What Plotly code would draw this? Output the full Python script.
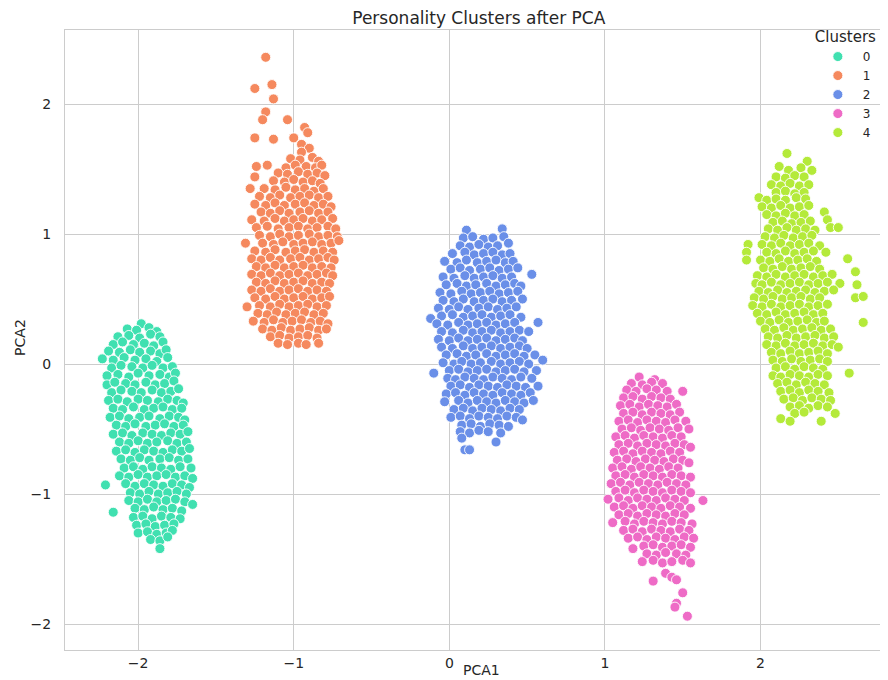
import plotly.graph_objects as go

# Cluster labels and colours
cluster_labels = ["0", "1", "2", "3", "4"]
cluster_colors = ["#40E0B0", "#F5895E", "#6A8FE8", "#EE6BC6", "#B4EA3A"]

# PCA coordinates (x=PCA1, y=PCA2), per cluster
cluster0 = [
    (-1.98, 0.31),
    (-2.07, 0.27), (-2.01, 0.26), (-1.93, 0.28), (-1.88, 0.25),
    (-2.13, 0.21), (-2.06, 0.22), (-1.99, 0.20), (-1.92, 0.23), (-1.86, 0.21),
    (-2.16, 0.15), (-2.10, 0.17), (-2.03, 0.15), (-1.96, 0.16), (-1.90, 0.14), (-1.84, 0.17),
    (-2.19, 0.10), (-2.12, 0.09), (-2.05, 0.11), (-1.99, 0.09), (-1.92, 0.10), (-1.86, 0.08), (-1.82, 0.11),
    (-2.23, 0.04), (-2.16, 0.03), (-2.09, 0.05), (-2.02, 0.03), (-1.95, 0.04), (-1.88, 0.02), (-1.81, 0.05),
    (-2.17, -0.03), (-2.11, -0.01), (-2.04, -0.02), (-1.97, -0.03), (-1.91, -0.01), (-1.84, -0.03), (-1.78, -0.02),
    (-2.20, -0.09), (-2.13, -0.08), (-2.06, -0.10), (-2.00, -0.07), (-1.93, -0.09), (-1.86, -0.08), (-1.80, -0.10), (-1.76, -0.07),
    (-2.20, -0.16), (-2.15, -0.14), (-2.08, -0.15), (-2.02, -0.16), (-1.95, -0.14), (-1.89, -0.16), (-1.83, -0.15), (-1.77, -0.13),
    (-2.17, -0.22), (-2.11, -0.20), (-2.04, -0.21), (-1.98, -0.22), (-1.91, -0.20), (-1.85, -0.22), (-1.79, -0.21), (-1.74, -0.19),
    (-2.19, -0.28), (-2.13, -0.27), (-2.07, -0.29), (-2.00, -0.27), (-1.94, -0.28), (-1.87, -0.29), (-1.81, -0.27), (-1.75, -0.28), (-1.71, -0.30),
    (-2.16, -0.34), (-2.10, -0.35), (-2.03, -0.33), (-1.96, -0.35), (-1.90, -0.34), (-1.84, -0.33), (-1.78, -0.35), (-1.72, -0.34),
    (-2.18, -0.41), (-2.12, -0.40), (-2.06, -0.42), (-1.99, -0.41), (-1.93, -0.40), (-1.86, -0.42), (-1.80, -0.40), (-1.74, -0.41), (-1.70, -0.43),
    (-2.14, -0.47), (-2.08, -0.48), (-2.02, -0.46), (-1.95, -0.48), (-1.89, -0.47), (-1.83, -0.46), (-1.77, -0.48), (-1.71, -0.47),
    (-2.16, -0.54), (-2.10, -0.53), (-2.04, -0.55), (-1.97, -0.53), (-1.91, -0.54), (-1.85, -0.55), (-1.79, -0.53), (-1.73, -0.54), (-1.68, -0.52),
    (-2.12, -0.60), (-2.06, -0.61), (-2.00, -0.59), (-1.94, -0.61), (-1.88, -0.60), (-1.81, -0.59), (-1.75, -0.61), (-1.69, -0.60),
    (-2.14, -0.67), (-2.08, -0.66), (-2.02, -0.68), (-1.96, -0.66), (-1.90, -0.67), (-1.84, -0.68), (-1.78, -0.66), (-1.72, -0.67), (-1.67, -0.65),
    (-2.11, -0.73), (-2.05, -0.74), (-1.99, -0.72), (-1.93, -0.74), (-1.86, -0.73), (-1.80, -0.72), (-1.74, -0.74), (-1.68, -0.73),
    (-2.09, -0.80), (-2.03, -0.79), (-1.97, -0.81), (-1.91, -0.79), (-1.85, -0.80), (-1.79, -0.81), (-1.73, -0.79), (-1.66, -0.80),
    (-2.12, -0.86), (-2.06, -0.87), (-2.00, -0.85), (-1.94, -0.87), (-1.88, -0.86), (-1.82, -0.85), (-1.76, -0.87), (-1.70, -0.86), (-1.65, -0.88),
    (-2.21, -0.93), (-2.08, -0.92), (-2.02, -0.94), (-1.96, -0.92), (-1.90, -0.93), (-1.84, -0.94), (-1.78, -0.92), (-1.72, -0.93), (-1.67, -0.95),
    (-2.05, -0.99), (-1.99, -1.00), (-1.93, -0.98), (-1.87, -1.00), (-1.81, -0.99), (-1.75, -0.98), (-1.69, -1.00),
    (-2.06, -1.05), (-2.00, -1.06), (-1.94, -1.04), (-1.88, -1.06), (-1.82, -1.05), (-1.76, -1.04), (-1.70, -1.06), (-1.65, -1.08),
    (-2.16, -1.14), (-2.02, -1.11), (-1.96, -1.12), (-1.90, -1.10), (-1.84, -1.12), (-1.78, -1.11), (-1.72, -1.13),
    (-2.03, -1.18), (-1.97, -1.17), (-1.91, -1.19), (-1.85, -1.17), (-1.79, -1.18), (-1.73, -1.19),
    (-2.01, -1.24), (-1.95, -1.23), (-1.89, -1.25), (-1.83, -1.24), (-1.77, -1.23),
    (-2.00, -1.30), (-1.94, -1.29), (-1.88, -1.31), (-1.82, -1.30), (-1.78, -1.28),
    (-1.92, -1.35), (-1.86, -1.36), (-1.81, -1.33),
    (-1.86, -1.42),
]

cluster1 = [
    (-1.18, 2.36), (-1.25, 2.12), (-1.14, 2.15), (-1.13, 2.04), (-1.18, 1.94),
    (-1.20, 1.88), (-1.04, 1.88), (-0.93, 1.82), (-0.91, 1.78), (-1.25, 1.74),
    (-1.13, 1.73), (-1.00, 1.74), (-0.95, 1.69), (-0.90, 1.66), (-0.95, 1.63),
    (-1.02, 1.58), (-0.96, 1.57), (-0.88, 1.59), (-0.84, 1.56),
    (-1.24, 1.52), (-1.17, 1.53), (-1.05, 1.51), (-0.99, 1.53), (-0.92, 1.52), (-0.86, 1.51), (-0.82, 1.53),
    (-1.10, 1.47), (-1.04, 1.46), (-0.97, 1.48), (-0.91, 1.46), (-0.85, 1.47), (-0.80, 1.45),
    (-1.25, 1.44), (-1.13, 1.41), (-1.06, 1.40), (-1.00, 1.42), (-0.94, 1.40), (-0.88, 1.41), (-0.83, 1.39),
    (-1.28, 1.35), (-1.19, 1.35), (-1.12, 1.34), (-1.05, 1.36), (-0.99, 1.34), (-0.93, 1.35), (-0.87, 1.33), (-0.81, 1.35),
    (-1.22, 1.29), (-1.15, 1.28), (-1.09, 1.30), (-1.02, 1.28), (-0.96, 1.29), (-0.90, 1.30), (-0.84, 1.28), (-0.78, 1.29),
    (-1.25, 1.23), (-1.18, 1.22), (-1.12, 1.24), (-1.06, 1.22), (-0.99, 1.23), (-0.93, 1.24), (-0.87, 1.22), (-0.81, 1.23), (-0.76, 1.21),
    (-1.21, 1.17), (-1.15, 1.16), (-1.09, 1.18), (-1.03, 1.16), (-0.96, 1.17), (-0.90, 1.18), (-0.84, 1.16), (-0.78, 1.17),
    (-1.27, 1.11), (-1.19, 1.10), (-1.12, 1.12), (-1.06, 1.10), (-1.00, 1.11), (-0.94, 1.12), (-0.88, 1.10), (-0.82, 1.11), (-0.75, 1.12),
    (-1.24, 1.05), (-1.17, 1.06), (-1.10, 1.04), (-1.03, 1.05), (-0.97, 1.06), (-0.91, 1.04), (-0.85, 1.05), (-0.78, 1.06), (-0.73, 1.04),
    (-1.22, 0.99), (-1.15, 0.98), (-1.09, 1.00), (-1.03, 0.98), (-0.97, 0.99), (-0.90, 1.00), (-0.84, 0.98), (-0.78, 0.99), (-0.72, 0.98),
    (-1.31, 0.93), (-1.20, 0.93), (-1.13, 0.92), (-1.07, 0.94), (-1.00, 0.92), (-0.94, 0.93), (-0.88, 0.94), (-0.82, 0.92), (-0.76, 0.93), (-0.71, 0.95),
    (-1.25, 0.87), (-1.18, 0.86), (-1.12, 0.88), (-1.05, 0.86), (-0.99, 0.87), (-0.93, 0.88), (-0.87, 0.86), (-0.81, 0.87), (-0.75, 0.86),
    (-1.27, 0.81), (-1.21, 0.80), (-1.15, 0.82), (-1.09, 0.80), (-1.02, 0.81), (-0.96, 0.82), (-0.90, 0.80), (-0.84, 0.81), (-0.78, 0.82), (-0.74, 0.80),
    (-1.24, 0.75), (-1.18, 0.74), (-1.12, 0.76), (-1.06, 0.74), (-1.00, 0.75), (-0.94, 0.76), (-0.88, 0.74), (-0.82, 0.75), (-0.76, 0.74),
    (-1.27, 0.69), (-1.21, 0.68), (-1.15, 0.70), (-1.09, 0.68), (-1.03, 0.69), (-0.97, 0.70), (-0.91, 0.68), (-0.85, 0.69), (-0.79, 0.70), (-0.75, 0.68),
    (-1.24, 0.63), (-1.18, 0.62), (-1.12, 0.64), (-1.06, 0.62), (-1.00, 0.63), (-0.94, 0.64), (-0.88, 0.62), (-0.82, 0.63), (-0.77, 0.62),
    (-1.27, 0.57), (-1.21, 0.56), (-1.15, 0.58), (-1.09, 0.56), (-1.03, 0.57), (-0.97, 0.58), (-0.91, 0.56), (-0.85, 0.57), (-0.79, 0.56),
    (-1.25, 0.51), (-1.18, 0.50), (-1.12, 0.52), (-1.06, 0.50), (-1.00, 0.51), (-0.94, 0.52), (-0.88, 0.50), (-0.82, 0.51), (-0.77, 0.52),
    (-1.30, 0.44), (-1.22, 0.45), (-1.15, 0.44), (-1.09, 0.46), (-1.03, 0.44), (-0.97, 0.45), (-0.91, 0.46), (-0.85, 0.44), (-0.79, 0.45),
    (-1.23, 0.39), (-1.17, 0.38), (-1.11, 0.40), (-1.05, 0.38), (-0.99, 0.39), (-0.93, 0.40), (-0.87, 0.38), (-0.81, 0.39),
    (-1.26, 0.33), (-1.19, 0.32), (-1.13, 0.34), (-1.07, 0.32), (-1.01, 0.33), (-0.95, 0.34), (-0.89, 0.32), (-0.83, 0.33), (-0.78, 0.31),
    (-1.20, 0.27), (-1.14, 0.26), (-1.08, 0.28), (-1.02, 0.26), (-0.96, 0.27), (-0.90, 0.28), (-0.84, 0.26), (-0.79, 0.27),
    (-1.15, 0.21), (-1.09, 0.22), (-1.03, 0.20), (-0.97, 0.21), (-0.91, 0.22), (-0.85, 0.20),
    (-1.10, 0.16), (-1.04, 0.15), (-0.97, 0.16), (-0.92, 0.15), (-0.84, 0.16),
]

cluster2 = [
    (0.11, 1.03), (0.34, 1.04),
    (0.09, 0.97), (0.15, 0.98), (0.22, 0.96), (0.28, 0.97), (0.35, 0.98),
    (0.07, 0.91), (0.13, 0.90), (0.19, 0.92), (0.25, 0.90), (0.31, 0.91), (0.38, 0.93),
    (0.02, 0.85), (0.10, 0.86), (0.16, 0.84), (0.22, 0.85), (0.28, 0.86), (0.34, 0.84), (0.39, 0.85),
    (-0.03, 0.79), (0.05, 0.78), (0.11, 0.80), (0.18, 0.78), (0.24, 0.79), (0.30, 0.80), (0.36, 0.78), (0.41, 0.79),
    (0.01, 0.73), (0.07, 0.74), (0.13, 0.72), (0.20, 0.73), (0.26, 0.74), (0.32, 0.72), (0.38, 0.73), (0.44, 0.74),
    (0.53, 0.69),
    (-0.04, 0.67), (0.03, 0.66), (0.10, 0.68), (0.16, 0.66), (0.22, 0.67), (0.28, 0.68), (0.34, 0.66), (0.40, 0.67),
    (-0.02, 0.61), (0.05, 0.62), (0.11, 0.60), (0.17, 0.61), (0.24, 0.62), (0.30, 0.60), (0.36, 0.61), (0.42, 0.62), (0.46, 0.60),
    (-0.06, 0.55), (0.01, 0.54), (0.08, 0.56), (0.14, 0.54), (0.20, 0.55), (0.26, 0.56), (0.32, 0.54), (0.38, 0.55), (0.44, 0.56),
    (-0.04, 0.49), (0.03, 0.48), (0.09, 0.50), (0.16, 0.48), (0.22, 0.49), (0.28, 0.50), (0.34, 0.48), (0.40, 0.49), (0.47, 0.50),
    (-0.07, 0.43), (0.00, 0.42), (0.06, 0.44), (0.12, 0.42), (0.19, 0.43), (0.25, 0.44), (0.31, 0.42), (0.37, 0.43), (0.43, 0.44),
    (-0.05, 0.37), (0.02, 0.38), (0.09, 0.36), (0.15, 0.37), (0.21, 0.38), (0.27, 0.36), (0.33, 0.37), (0.39, 0.38), (0.46, 0.36),
    (-0.12, 0.35),
    (-0.08, 0.31), (-0.01, 0.30), (0.06, 0.32), (0.12, 0.30), (0.18, 0.31), (0.24, 0.32), (0.30, 0.30), (0.36, 0.31), (0.42, 0.32), (0.57, 0.32),
    (-0.05, 0.25), (0.02, 0.24), (0.09, 0.26), (0.15, 0.24), (0.21, 0.25), (0.27, 0.26), (0.33, 0.24), (0.39, 0.25), (0.45, 0.26), (0.51, 0.25),
    (-0.07, 0.19), (0.00, 0.18), (0.06, 0.20), (0.12, 0.18), (0.18, 0.19), (0.24, 0.20), (0.30, 0.18), (0.36, 0.19), (0.42, 0.20), (0.47, 0.18),
    (-0.05, 0.13), (0.02, 0.12), (0.09, 0.14), (0.15, 0.12), (0.21, 0.13), (0.27, 0.14), (0.33, 0.12), (0.39, 0.13), (0.45, 0.14), (0.50, 0.12),
    (-0.02, 0.07), (0.05, 0.08), (0.11, 0.06), (0.17, 0.07), (0.24, 0.08), (0.30, 0.06), (0.36, 0.07), (0.42, 0.08), (0.48, 0.06), (0.55, 0.07),
    (-0.04, 0.01), (0.03, 0.00), (0.08, 0.02), (0.14, 0.00), (0.20, 0.01), (0.27, 0.02), (0.33, 0.00), (0.39, 0.01), (0.45, 0.02), (0.51, 0.00), (0.60, 0.03),
    (-0.10, -0.07), (0.00, -0.05), (0.06, -0.04), (0.12, -0.06), (0.18, -0.05), (0.24, -0.04), (0.30, -0.06), (0.36, -0.05), (0.42, -0.04), (0.48, -0.06), (0.56, -0.05),
    (-0.01, -0.11), (0.04, -0.12), (0.10, -0.10), (0.16, -0.11), (0.22, -0.12), (0.28, -0.10), (0.34, -0.11), (0.40, -0.12), (0.46, -0.10), (0.53, -0.11),
    (0.01, -0.17), (0.07, -0.16), (0.13, -0.18), (0.19, -0.16), (0.25, -0.17), (0.31, -0.18), (0.37, -0.16), (0.43, -0.17), (0.49, -0.18), (0.57, -0.17),
    (-0.02, -0.23), (0.04, -0.22), (0.10, -0.24), (0.16, -0.22), (0.22, -0.23), (0.28, -0.24), (0.34, -0.22), (0.40, -0.23), (0.46, -0.24), (0.52, -0.22),
    (-0.03, -0.29), (0.06, -0.28), (0.12, -0.30), (0.18, -0.28), (0.24, -0.29), (0.30, -0.30), (0.36, -0.28), (0.42, -0.29), (0.48, -0.30), (0.54, -0.28),
    (0.03, -0.35), (0.09, -0.34), (0.15, -0.36), (0.21, -0.34), (0.27, -0.35), (0.33, -0.36), (0.39, -0.34), (0.45, -0.35),
    (0.01, -0.41), (0.07, -0.40), (0.13, -0.42), (0.19, -0.40), (0.25, -0.41), (0.31, -0.42), (0.37, -0.40), (0.43, -0.41), (0.47, -0.43),
    (0.08, -0.47), (0.14, -0.46), (0.20, -0.48), (0.26, -0.46), (0.32, -0.47), (0.38, -0.48),
    (0.07, -0.52), (0.13, -0.53), (0.19, -0.51), (0.25, -0.52), (0.33, -0.53),
    (0.08, -0.57), (0.30, -0.60),
    (0.10, -0.66), (0.13, -0.66),
]

cluster3 = [
    (1.22, -0.10), (1.32, -0.12),
    (1.17, -0.15), (1.24, -0.16), (1.30, -0.14), (1.37, -0.15),
    (1.14, -0.20), (1.20, -0.21), (1.27, -0.19), (1.33, -0.20), (1.40, -0.21), (1.50, -0.21),
    (1.12, -0.26), (1.18, -0.25), (1.24, -0.27), (1.30, -0.25), (1.36, -0.26), (1.42, -0.27),
    (1.10, -0.32), (1.16, -0.31), (1.22, -0.33), (1.28, -0.31), (1.34, -0.32), (1.40, -0.33), (1.46, -0.31),
    (1.12, -0.38), (1.18, -0.37), (1.24, -0.39), (1.30, -0.37), (1.36, -0.38), (1.42, -0.39), (1.48, -0.37),
    (1.09, -0.44), (1.15, -0.43), (1.21, -0.45), (1.27, -0.43), (1.33, -0.44), (1.39, -0.45), (1.45, -0.43), (1.52, -0.44),
    (1.11, -0.50), (1.17, -0.49), (1.23, -0.51), (1.29, -0.49), (1.35, -0.50), (1.41, -0.51), (1.47, -0.49), (1.54, -0.50),
    (1.07, -0.56), (1.13, -0.55), (1.19, -0.57), (1.25, -0.55), (1.31, -0.56), (1.37, -0.57), (1.43, -0.55), (1.49, -0.56),
    (1.09, -0.62), (1.15, -0.61), (1.21, -0.63), (1.27, -0.61), (1.33, -0.62), (1.39, -0.63), (1.45, -0.61), (1.51, -0.62), (1.55, -0.64),
    (1.06, -0.68), (1.12, -0.67), (1.18, -0.69), (1.24, -0.67), (1.30, -0.68), (1.36, -0.69), (1.42, -0.67), (1.48, -0.68),
    (1.08, -0.74), (1.14, -0.73), (1.20, -0.75), (1.26, -0.73), (1.32, -0.74), (1.38, -0.75), (1.44, -0.73), (1.50, -0.74), (1.54, -0.76),
    (1.05, -0.80), (1.11, -0.79), (1.17, -0.81), (1.23, -0.79), (1.29, -0.80), (1.35, -0.81), (1.41, -0.79), (1.47, -0.80),
    (1.07, -0.86), (1.13, -0.85), (1.19, -0.87), (1.25, -0.85), (1.31, -0.86), (1.37, -0.87), (1.43, -0.85), (1.49, -0.86), (1.55, -0.87),
    (1.04, -0.92), (1.10, -0.91), (1.16, -0.93), (1.22, -0.91), (1.28, -0.92), (1.34, -0.93), (1.40, -0.91), (1.46, -0.92), (1.52, -0.93),
    (1.07, -0.98), (1.13, -0.97), (1.19, -0.99), (1.25, -0.97), (1.31, -0.98), (1.37, -0.99), (1.43, -0.97), (1.49, -0.98), (1.55, -0.99),
    (1.02, -1.04), (1.09, -1.03), (1.15, -1.05), (1.21, -1.03), (1.27, -1.04), (1.33, -1.05), (1.39, -1.03), (1.45, -1.04), (1.51, -1.05), (1.63, -1.05),
    (1.06, -1.10), (1.12, -1.09), (1.18, -1.11), (1.24, -1.09), (1.30, -1.10), (1.36, -1.11), (1.42, -1.09), (1.48, -1.10), (1.55, -1.11),
    (1.09, -1.16), (1.15, -1.15), (1.21, -1.17), (1.27, -1.15), (1.33, -1.16), (1.39, -1.17), (1.45, -1.15), (1.51, -1.16),
    (1.05, -1.22), (1.13, -1.21), (1.19, -1.23), (1.25, -1.21), (1.31, -1.22), (1.37, -1.23), (1.43, -1.21), (1.49, -1.22), (1.56, -1.23),
    (1.12, -1.28), (1.18, -1.27), (1.24, -1.29), (1.30, -1.27), (1.36, -1.28), (1.42, -1.29), (1.48, -1.27), (1.54, -1.28),
    (1.15, -1.34), (1.21, -1.33), (1.27, -1.35), (1.33, -1.33), (1.39, -1.34), (1.45, -1.35), (1.51, -1.33), (1.57, -1.34),
    (1.18, -1.42), (1.25, -1.40), (1.31, -1.39), (1.37, -1.41), (1.43, -1.40), (1.49, -1.39), (1.55, -1.41),
    (1.27, -1.46), (1.33, -1.47), (1.39, -1.45), (1.46, -1.46), (1.52, -1.47),
    (1.24, -1.52), (1.31, -1.51), (1.37, -1.53), (1.43, -1.52), (1.50, -1.51), (1.55, -1.53),
    (1.31, -1.67), (1.39, -1.61), (1.43, -1.64), (1.46, -1.66),
    (1.50, -1.76), (1.46, -1.84), (1.45, -1.87), (1.53, -1.94),
]

cluster4 = [
    (2.17, 1.62), (2.12, 1.52), (2.30, 1.56), (2.26, 1.51), (2.33, 1.49), (2.18, 1.49),
    (2.10, 1.44), (2.16, 1.43), (2.22, 1.45), (2.28, 1.44),
    (2.07, 1.38), (2.13, 1.37), (2.19, 1.39), (2.25, 1.37), (2.31, 1.38),
    (2.10, 1.32), (2.16, 1.33), (2.22, 1.31), (2.28, 1.32),
    (1.99, 1.28), (2.04, 1.26), (2.10, 1.27), (2.16, 1.26), (2.23, 1.28), (2.29, 1.27),
    (2.01, 1.21), (2.07, 1.20), (2.13, 1.22), (2.19, 1.20), (2.25, 1.21), (2.31, 1.22), (2.41, 1.17),
    (2.04, 1.15), (2.10, 1.14), (2.16, 1.16), (2.22, 1.14), (2.28, 1.15), (2.43, 1.11),
    (2.08, 1.09), (2.14, 1.10), (2.20, 1.08), (2.26, 1.09), (2.32, 1.10),
    (2.05, 1.04), (2.11, 1.03), (2.17, 1.05), (2.23, 1.03), (2.29, 1.04), (2.35, 1.03), (2.45, 1.05), (2.50, 1.05),
    (2.03, 0.98), (2.09, 0.97), (2.15, 0.99), (2.21, 0.97), (2.27, 0.98), (2.33, 0.99),
    (1.92, 0.92), (2.01, 0.92), (2.07, 0.91), (2.13, 0.93), (2.19, 0.91), (2.25, 0.92), (2.31, 0.93), (2.38, 0.91),
    (1.91, 0.86), (2.04, 0.86), (2.10, 0.85), (2.16, 0.87), (2.22, 0.85), (2.28, 0.86), (2.34, 0.87), (2.42, 0.86),
    (1.91, 0.80), (2.00, 0.80), (2.06, 0.79), (2.12, 0.81), (2.18, 0.79), (2.24, 0.80), (2.30, 0.81), (2.36, 0.79), (2.56, 0.81),
    (2.02, 0.74), (2.08, 0.73), (2.14, 0.75), (2.20, 0.73), (2.26, 0.74), (2.32, 0.75), (2.38, 0.73),
    (1.98, 0.68), (2.04, 0.67), (2.10, 0.69), (2.16, 0.67), (2.22, 0.68), (2.28, 0.69), (2.34, 0.67), (2.40, 0.68), (2.46, 0.69), (2.61, 0.71),
    (1.97, 0.62), (2.01, 0.61), (2.07, 0.63), (2.13, 0.61), (2.19, 0.62), (2.25, 0.63), (2.31, 0.61), (2.37, 0.62), (2.43, 0.63), (2.51, 0.62), (2.62, 0.61),
    (1.99, 0.56), (2.05, 0.55), (2.11, 0.57), (2.17, 0.55), (2.23, 0.56), (2.29, 0.57), (2.35, 0.55), (2.41, 0.56), (2.47, 0.57),
    (1.96, 0.51), (2.02, 0.50), (2.08, 0.52), (2.14, 0.50), (2.20, 0.51), (2.26, 0.52), (2.32, 0.50), (2.38, 0.51), (2.61, 0.51), (2.66, 0.52),
    (1.95, 0.45), (2.01, 0.44), (2.07, 0.46), (2.13, 0.44), (2.19, 0.45), (2.25, 0.46), (2.31, 0.44), (2.37, 0.45), (2.43, 0.46),
    (1.98, 0.39), (2.04, 0.38), (2.10, 0.40), (2.16, 0.38), (2.22, 0.39), (2.28, 0.40), (2.34, 0.38), (2.40, 0.39),
    (2.00, 0.33), (2.06, 0.32), (2.12, 0.34), (2.18, 0.32), (2.24, 0.33), (2.30, 0.34), (2.36, 0.32), (2.41, 0.33), (2.66, 0.32),
    (2.03, 0.27), (2.09, 0.26), (2.15, 0.28), (2.21, 0.26), (2.27, 0.27), (2.33, 0.28), (2.39, 0.26), (2.45, 0.27),
    (2.05, 0.21), (2.11, 0.20), (2.17, 0.22), (2.23, 0.20), (2.29, 0.21), (2.35, 0.22), (2.41, 0.20), (2.47, 0.21),
    (2.04, 0.15), (2.10, 0.14), (2.16, 0.16), (2.22, 0.14), (2.28, 0.15), (2.34, 0.16), (2.40, 0.14), (2.46, 0.15), (2.50, 0.13),
    (2.07, 0.09), (2.13, 0.08), (2.19, 0.10), (2.25, 0.08), (2.31, 0.09), (2.37, 0.10), (2.43, 0.08),
    (2.08, 0.03), (2.14, 0.02), (2.20, 0.04), (2.26, 0.02), (2.32, 0.03), (2.38, 0.04), (2.43, 0.02),
    (2.10, -0.03), (2.16, -0.02), (2.22, -0.04), (2.28, -0.02), (2.34, -0.03), (2.40, -0.04), (2.57, -0.07),
    (2.08, -0.09), (2.13, -0.10), (2.19, -0.08), (2.25, -0.09), (2.31, -0.10), (2.37, -0.08), (2.43, -0.09),
    (2.11, -0.15), (2.17, -0.14), (2.23, -0.16), (2.29, -0.14), (2.35, -0.15), (2.41, -0.16),
    (2.13, -0.21), (2.19, -0.20), (2.25, -0.22), (2.31, -0.20), (2.37, -0.21), (2.44, -0.22),
    (2.15, -0.27), (2.21, -0.26), (2.27, -0.28), (2.33, -0.26), (2.39, -0.27), (2.45, -0.28),
    (2.19, -0.33), (2.25, -0.32), (2.31, -0.34), (2.37, -0.32), (2.43, -0.33),
    (2.22, -0.38), (2.28, -0.37), (2.48, -0.38),
    (2.13, -0.42), (2.19, -0.44), (2.39, -0.44),
]

clusters = [cluster0, cluster1, cluster2, cluster3, cluster4]

x_ticks = [-2, -1, 0, 1, 2]
y_ticks = [-2, -1, 0, 1, 2]

FONT = "DejaVu Sans"
TEXT = "#262626"
GRID = "#cccccc"

fig = go.Figure()
for label, color, pts in zip(cluster_labels, cluster_colors, clusters):
    fig.add_trace(go.Scatter(
        x=[p[0] for p in pts],
        y=[p[1] for p in pts],
        mode="markers",
        name=label,
        marker=dict(size=10, color=color, line=dict(color="white", width=0.9)),
    ))

# The page body has an 8px default margin, so the figure is 880x672.
fig.update_layout(
    width=880, height=672,
    margin=dict(l=57, r=3, t=22, b=30),
    paper_bgcolor="white", plot_bgcolor="white",
    font=dict(family=FONT, size=14, color=TEXT),
    title=dict(text="Personality Clusters after PCA", x=0.535, xanchor="center",
               y=0.985, yanchor="middle", font=dict(family=FONT, size=17, color=TEXT)),
    legend=dict(title=dict(text="Clusters", font=dict(size=15, color=TEXT)),
                x=0.912, y=1.012, xanchor="left", yanchor="top",
                bgcolor="rgba(0,0,0,0)", font=dict(size=12, color=TEXT),
                itemwidth=40, tracegroupgap=0),
    showlegend=True,
    annotations=[
        dict(text="PCA1", xref="paper", yref="paper", x=0.5085, y=-0.032,
             xanchor="center", yanchor="middle", showarrow=False,
             font=dict(family=FONT, size=14, color=TEXT)),
        dict(text="PCA2", xref="paper", yref="paper", x=-0.0549, y=0.505,
             xanchor="center", yanchor="middle", showarrow=False, textangle=-90,
             font=dict(family=FONT, size=14, color=TEXT)),
    ],
)
fig.update_xaxes(range=[-2.47, 2.80], tickvals=x_ticks, showgrid=True, gridcolor=GRID,
                 gridwidth=1, zeroline=False, showline=True, linecolor=GRID, mirror=True,
                 ticks="", automargin=False, tickfont=dict(size=14))
fig.update_yaxes(range=[-2.2, 2.57], tickvals=y_ticks, showgrid=True, gridcolor=GRID,
                 gridwidth=1, zeroline=False, showline=True, linecolor=GRID, mirror=True,
                 ticks="", automargin=False, tickfont=dict(size=14), ticklabelstandoff=10)

fig.write_html("out.html")
